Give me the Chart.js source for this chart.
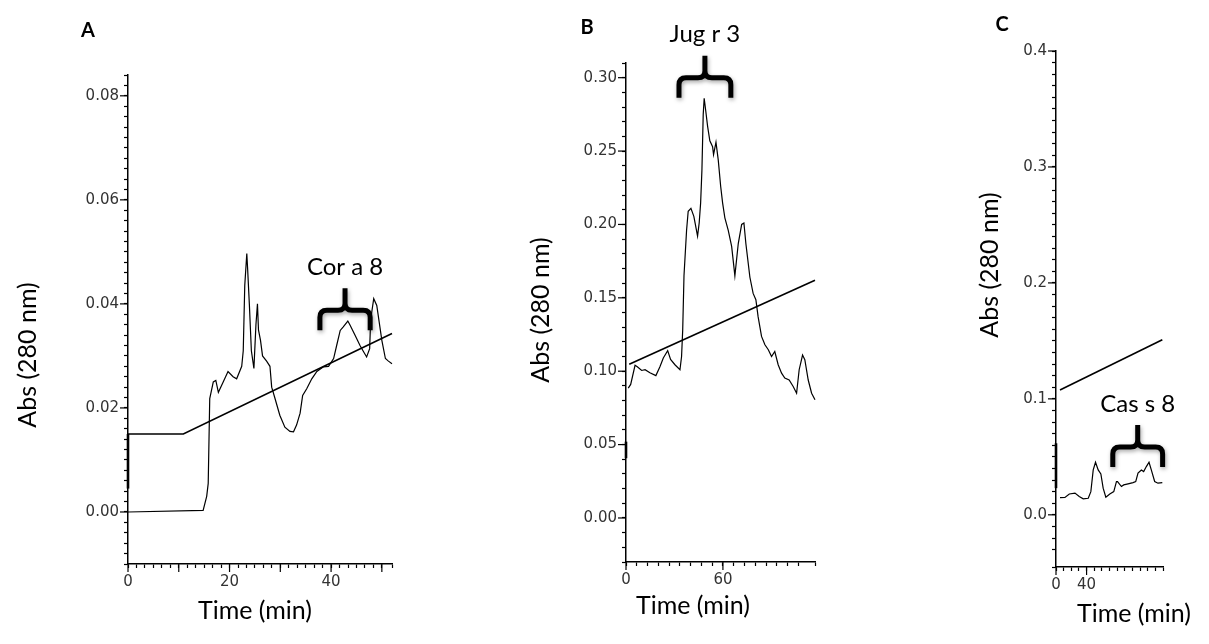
<!DOCTYPE html>
<html>
<head>
<meta charset="utf-8">
<script src="https://cdn.jsdelivr.net/npm/chart.js@4.4.1/dist/chart.umd.min.js"></script>
<style>
  html, body { margin: 0; padding: 0; background: #fff; }
  body { width: 1209px; height: 644px; position: relative; overflow: hidden; }
  canvas { position: absolute; left: 0; top: 0; }
</style>
</head>
<body>
<canvas id="chartA" width="1209" height="644"></canvas>
<canvas id="chartB" width="1209" height="644"></canvas>
<canvas id="chartC" width="1209" height="644"></canvas>
<script>
// Panel A - Cor a 8
const timeA = [0, 14.8, 15.5, 15.8, 16.1, 16.8, 17.3, 17.8, 18.75, 19.7, 20.7, 21.4, 22.4, 22.7, 23.0, 23.4, 23.55, 23.9, 24.3, 24.8,
  25.2, 25.5, 25.7, 26.1, 26.5, 27.3, 27.96, 28.3, 28.9, 29.9, 30.9, 31.9, 32.6, 33.2, 33.9, 34.4, 35.2, 36.2, 37.2, 38.5,
  39.5, 40.5, 41.1, 41.8, 42.4, 43.3, 43.75, 44.7, 45.7, 46.4, 47.0, 47.6, 47.8, 48.4, 49.0, 49.7, 50.0, 50.7, 51.3, 52.0];
const absA = [0, 0.0003, 0.003, 0.0055, 0.0218, 0.025, 0.0253, 0.023, 0.025, 0.027, 0.026, 0.0256, 0.028, 0.031, 0.0436, 0.0497, 0.047, 0.040, 0.031, 0.0276,
  0.036, 0.040, 0.035, 0.033, 0.030, 0.029, 0.028, 0.024, 0.022, 0.0186, 0.0163, 0.0155, 0.0154, 0.0167, 0.019, 0.0224, 0.0237, 0.0256, 0.027, 0.0279,
  0.028, 0.0295, 0.032, 0.0349, 0.0356, 0.0367, 0.0359, 0.034, 0.032, 0.0308, 0.0298, 0.0314, 0.037, 0.041, 0.0397, 0.035, 0.033, 0.0295, 0.029, 0.0285];
const gradTimeA = [0, 10.9, 52];
const gradA = [0.015, 0.015, 0.0343];
const markA = [0.0045, 0.015];
const braceA = [37.8, 47.7, 0.0388];
const xLabelsA = [0, 20, 40];
const xMajorA = [0, 10, 20, 30, 40, 50];
const yLabelsA = [0, 0.02, 0.04, 0.06, 0.08];

// Panel B - Jug r 3
const timeB = [1.4, 2.9, 5.6, 7.0, 9.7, 11.8, 14.8, 18.5, 21, 23.1, 25.8, 27.6, 30.3, 33.4, 34.4, 35.1, 35.9, 37.5, 38.5, 40.2,
  42, 44.3, 45.3, 46.2, 47, 47.8, 48.4, 49.3, 50.5, 51.9, 53.6, 54.2, 55.7, 57.1, 58.6, 59.8, 61.2, 63.3, 65.4, 67.4,
  69.5, 71.6, 73, 74.2, 76.7, 78.7, 80.4, 81.8, 83.9, 86, 88.1, 90.1, 92.1, 94.2, 96.3, 98.3, 101, 103.5, 105.6, 107.2,
  109.3, 110.7, 112.8, 114.9, 117];
const absB = [0.0885, 0.091, 0.104, 0.103, 0.1005, 0.101, 0.099, 0.097, 0.103, 0.109, 0.114, 0.108, 0.1044, 0.101, 0.110, 0.128, 0.165, 0.196, 0.209, 0.211,
  0.2055, 0.192, 0.201, 0.2147, 0.237, 0.275, 0.286, 0.278, 0.267, 0.257, 0.253, 0.2476, 0.256, 0.244, 0.226, 0.2147, 0.2045, 0.196, 0.185, 0.165,
  0.187, 0.200, 0.201, 0.187, 0.164, 0.153, 0.1487, 0.137, 0.1237, 0.118, 0.1146, 0.110, 0.1134, 0.1044, 0.0987, 0.0953, 0.094, 0.0896, 0.085, 0.101,
  0.111, 0.1078, 0.094, 0.085, 0.0805];
const gradTimeB = [2, 117];
const gradB = [0.1048, 0.162];
const markB = [0.0407, 0.052];
const braceB = [32.8, 64.9, 0.300];
const xLabelsB = [0, 60];
const xMajorB = [0, 60];
const yLabelsB = [0, 0.05, 0.10, 0.15, 0.20, 0.25, 0.30];

// Panel C - Cas s 8
const timeC = [5.2, 11.7, 17.4, 24.8, 30.4, 35.6, 42.2, 45.6, 48.7, 51.7, 55.2, 58.7, 61.7, 65.2, 70.4, 75.6,
  79.1, 80.5, 85.6, 88.6, 94.3, 100.8, 104.3, 107.3, 111.7, 114.7, 118.2, 121.7, 124.7, 129.1, 133.4, 139.1];
const absC = [0.0149, 0.015, 0.018, 0.0187, 0.0158, 0.0138, 0.0143, 0.020, 0.0387, 0.0453, 0.0387, 0.0353, 0.023, 0.0152, 0.018, 0.020,
  0.0287, 0.0287, 0.0244, 0.0258, 0.0267, 0.0278, 0.0287, 0.0359, 0.0387, 0.0373, 0.0416, 0.0453, 0.0387, 0.0287, 0.0273, 0.0278];
const gradTimeC = [5.2, 139.1];
const gradC = [0.1076, 0.151];
const markC = [0.023, 0.0617];
const braceC = [74.3, 139.5, 0.0585];
const xLabelsC = [0, 40];
const xMajorC = [0, 40];
const yLabelsC = [0, 0.1, 0.2, 0.3, 0.4];

const textFont = 'Lato, "Open Sans", sans-serif';
const tickFont = { family: 'DejaVu Sans, sans-serif', size: 15 };

function pts(xs, ys) {
  return xs.map((x, i) => ({ x: x, y: ys[i] }));
}

function near(v, list) {
  return list.some(t => Math.abs(t - v) < 1e-6);
}

// long ticks, curly bracket + label, panel letter and axis titles
const panelText = {
  id: 'panelText',
  afterDraw(chart, args, o) {
    const ctx = chart.ctx;
    const xs = chart.scales.x;
    const ys = chart.scales.y;
    ctx.save();
    ctx.strokeStyle = '#000';
    ctx.lineWidth = 1.2;
    o.xMajor.forEach(v => {
      const px = xs.getPixelForValue(v);
      ctx.beginPath();
      ctx.moveTo(px, xs.top);
      ctx.lineTo(px, xs.top + 8);
      ctx.stroke();
    });
    o.yMajor.forEach(v => {
      const py = ys.getPixelForValue(v);
      ctx.beginPath();
      ctx.moveTo(ys.right - 8, py);
      ctx.lineTo(ys.right, py);
      ctx.stroke();
    });

    // bracket
    const x1 = xs.getPixelForValue(o.brace[0]);
    const x2 = xs.getPixelForValue(o.brace[1]);
    const yb = ys.getPixelForValue(o.brace[2]);
    const xc = (x1 + x2) / 2, r = 7, arm = 20, spike = 22;
    ctx.save();
    ctx.lineWidth = 5;
    ctx.lineJoin = 'round';
    ctx.shadowColor = 'rgba(0,0,0,0.35)';
    ctx.shadowBlur = 4;
    ctx.shadowOffsetX = 1;
    ctx.shadowOffsetY = 2;
    ctx.beginPath();
    ctx.moveTo(x1, yb + arm);
    ctx.lineTo(x1, yb + r);
    ctx.quadraticCurveTo(x1, yb, x1 + r, yb);
    ctx.lineTo(xc - r, yb);
    ctx.quadraticCurveTo(xc, yb, xc, yb - r);
    ctx.lineTo(xc, yb - spike);
    ctx.moveTo(xc, yb - r);
    ctx.quadraticCurveTo(xc, yb, xc + r, yb);
    ctx.lineTo(x2 - r, yb);
    ctx.quadraticCurveTo(x2, yb, x2, yb + r);
    ctx.lineTo(x2, yb + arm);
    ctx.stroke();
    ctx.restore();

    ctx.fillStyle = '#000';
    ctx.textAlign = 'center';
    ctx.textBaseline = 'middle';
    ctx.font = '24px ' + textFont;
    ctx.fillText(o.braceLabel, xc, yb - spike - 21);

    ctx.font = 'bold 20px ' + textFont;
    ctx.fillText(o.letter, o.letterPos[0], o.letterPos[1]);

    ctx.font = '25px ' + textFont;
    ctx.fillText('Time (min)', o.xTitlePos[0], o.xTitlePos[1]);
    ctx.translate(o.yTitlePos[0], o.yTitlePos[1]);
    ctx.rotate(-Math.PI / 2);
    ctx.fillText('Abs (280 nm)', 0, 0);
    ctx.restore();
  }
};

function makePanel(id, p) {
  const line = { showLine: true, borderColor: '#000', backgroundColor: '#000', pointRadius: 0, clip: false, tension: 0 };
  return new Chart(document.getElementById(id), {
    type: 'scatter',
    data: {
      datasets: [
        Object.assign({ data: pts(p.time, p.abs), borderWidth: 1.2 }, line),
        Object.assign({ data: pts(p.gradTime, p.grad), borderWidth: 1.6 }, line),
        Object.assign({ data: pts([0, 0], p.mark), borderWidth: 2.6 }, line)
      ]
    },
    options: {
      responsive: false,
      animation: false,
      devicePixelRatio: 1,
      layout: { padding: p.pad },
      plugins: {
        colors: { enabled: false },
        legend: { display: false },
        tooltip: { enabled: false },
        panelText: p.text
      },
      scales: {
        x: {
          type: 'linear',
          min: 0,
          max: p.xMax,
          afterFit: s => { s.height = 30; },
          border: { color: '#000', width: 1.5 },
          grid: { drawOnChartArea: false, tickLength: 4, tickColor: '#000', tickWidth: 1.2 },
          ticks: {
            stepSize: p.xStep, autoSkip: false, maxRotation: 0, padding: 5,
            color: '#333', font: tickFont,
            callback: v => near(v, p.xLabels) ? String(Math.round(v)) : ''
          }
        },
        y: {
          type: 'linear',
          min: p.yMin,
          max: p.yMax,
          afterFit: s => { s.width = 50; },
          border: { color: '#000', width: 1.5 },
          grid: { drawOnChartArea: false, tickLength: 4, tickColor: '#000', tickWidth: 1.2 },
          ticks: {
            stepSize: p.yStep, autoSkip: false, padding: 5,
            color: '#333', font: tickFont,
            callback: v => near(v, p.yLabels) ? Math.abs(v).toFixed(p.yDigits) : ''
          }
        }
      }
    },
    plugins: [panelText]
  });
}

makePanel('chartA', {
  time: timeA, abs: absA, gradTime: gradTimeA, grad: gradA, mark: markA,
  xMax: 52, xStep: 10 / 6, xLabels: xLabelsA,
  yMin: -0.01, yMax: 0.084, yStep: 0.002, yLabels: yLabelsA, yDigits: 2,
  pad: { left: 78, top: 75, right: 817, bottom: 50 },
  text: { xMajor: xMajorA, yMajor: yLabelsA, brace: braceA, braceLabel: 'Cor a 8',
    letter: 'A', letterPos: [88, 31], xTitlePos: [255, 611], yTitlePos: [28, 355] }
});

makePanel('chartB', {
  time: timeB, abs: absB, gradTime: gradTimeB, grad: gradB, mark: markB,
  xMax: 117, xStep: 60 / 9, xLabels: xLabelsB,
  yMin: -0.03, yMax: 0.31, yStep: 0.01, yLabels: yLabelsB, yDigits: 2,
  pad: { left: 576, top: 63, right: 394, bottom: 52 },
  text: { xMajor: xMajorB, yMajor: yLabelsB, brace: braceB, braceLabel: 'Jug r 3',
    letter: 'B', letterPos: [587, 28], xTitlePos: [693, 606], yTitlePos: [541, 310] }
});

makePanel('chartC', {
  time: timeC, abs: absC, gradTime: gradTimeC, grad: gradC, mark: markC,
  xMax: 140, xStep: 10, xLabels: xLabelsC,
  yMin: -0.045, yMax: 0.4, yStep: 0.01, yLabels: yLabelsC, yDigits: 1,
  pad: { left: 1006, top: 51, right: 46, bottom: 47 },
  text: { xMajor: xMajorC, yMajor: yLabelsC, brace: braceC, braceLabel: 'Cas s 8',
    letter: 'C', letterPos: [1002, 25], xTitlePos: [1134, 614], yTitlePos: [990, 265] }
});
</script>
</body>
</html>
